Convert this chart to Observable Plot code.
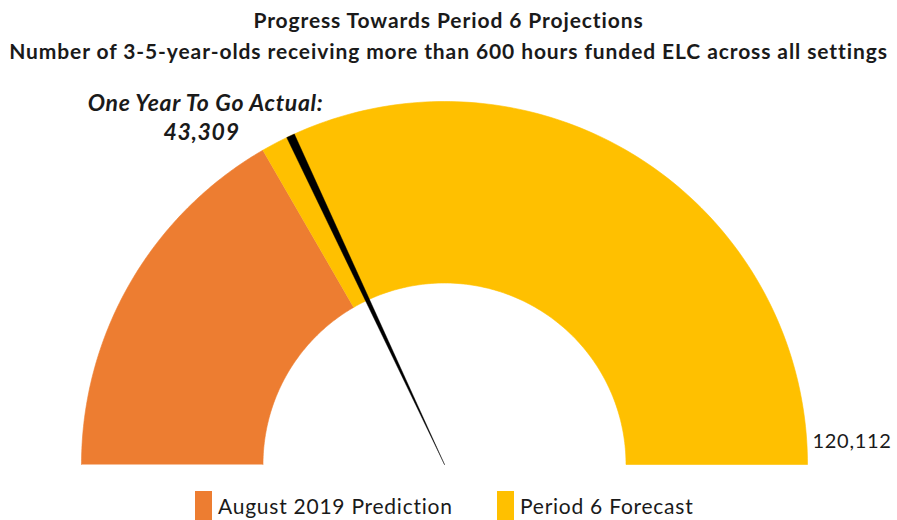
<!DOCTYPE html>
<html><head><meta charset="utf-8">
<script src="https://cdn.jsdelivr.net/npm/d3@7"></script>
<script src="https://cdn.jsdelivr.net/npm/@observablehq/plot@0.6"></script>
<style>
body{margin:0;background:#fff;font-family:Lato,"Open Sans",sans-serif;color:#1a1a1a;}
#wrap{position:relative;width:897px;height:520px;overflow:hidden;}
#title{width:897px;text-align:center;font-weight:700;font-size:21px;letter-spacing:0.9px;line-height:31px;padding-top:4px;height:66px;box-sizing:border-box;white-space:nowrap;}
#chart{position:absolute;left:0;top:70px;}
.leg{position:absolute;top:491px;height:29px;display:flex;align-items:flex-start;font-size:21px;letter-spacing:0.75px;}
.sw{width:17px;height:29px;margin-right:6px;}
.lt{line-height:20px;margin-top:5px;}
</style>
</head><body>
<div id="wrap">
  <div id="title"></div>
  <div id="chart"></div>
  <div id="legend"></div>
</div>
<script>
// ---- data ----
const titleLines = ["Progress Towards Period 6 Projections",
  "Number of 3-5-year-olds receiving more than 600 hours funded ELC across all settings"];
const gaugeMax = 120112;
const segmentNames = ["August 2019 Prediction", "Period 6 Forecast"];
const segmentStart = [0, 40000];
const segmentEnd = [40000, 120112];
const segmentColors = ["#ED7D31", "#FFC000"];
const actualLabel = "One Year To Go Actual:";
const actualValue = 43309;
const maxLabel = "120,112";

// ---- layout (style) ----
const W = 897, H = 412;
const cx = 444, cy = 394, R = 363;   // pixels
const innerRatio = 0.5;
const needleHalf = 4.2 / R;

document.getElementById("title").innerHTML = titleLines.map(t => `<div>${t}</div>`).join("");

const theta = v => Math.PI * (1 - v / gaugeMax);

function ringPoints(v0, v1, name) {
  const pts = [];
  const n = 120;
  for (let i = 0; i <= n; i++) {
    const a = theta(v0 + (v1 - v0) * i / n);
    pts.push({name, x: Math.cos(a), y: Math.sin(a)});
  }
  for (let i = n; i >= 0; i--) {
    const a = theta(v0 + (v1 - v0) * i / n);
    pts.push({name, x: innerRatio * Math.cos(a), y: innerRatio * Math.sin(a)});
  }
  return pts;
}

const segMarks = segmentNames.map((name, i) =>
  Plot.line(ringPoints(segmentStart[i], segmentEnd[i], name),
    {x: "x", y: "y", fill: segmentColors[i], stroke: segmentColors[i], strokeWidth: 0.6}));

const ta = theta(actualValue);
const needle = [
  {x: 0, y: 0},
  {x: Math.cos(ta + needleHalf), y: Math.sin(ta + needleHalf)},
  {x: Math.cos(ta - needleHalf), y: Math.sin(ta - needleHalf)},
  {x: 0, y: 0}
];
const needleTip = [{x: Math.cos(ta), y: Math.sin(ta), label: actualLabel, value: d3.format(",")(actualValue)}];
const endPoint = [{x: Math.cos(theta(gaugeMax)), y: 0, label: maxLabel}];

const chart = Plot.plot({
  width: W, height: H,
  margin: 0,
  x: {domain: [-cx / R, (W - cx) / R], axis: null},
  y: {domain: [-(H - cy) / R, cy / R], axis: null},
  style: {fontFamily: "Lato, 'Open Sans', sans-serif", color: "#1a1a1a", background: "white", letterSpacing: "0.7px"},
  marks: [
    ...segMarks,
    Plot.line(needle, {x: "x", y: "y", fill: "black", stroke: "black", strokeWidth: 0.4}),
    Plot.text(needleTip, {x: "x", y: "y", text: "label", dx: -85, dy: -25, lineAnchor: "bottom",
      fontSize: 23, fontWeight: 700, fontStyle: "italic", fill: "#1a1a1a"}),
    Plot.text(needleTip, {x: "x", y: "y", text: "value", dx: -89, dy: 4, lineAnchor: "bottom",
      fontSize: 23, fontWeight: 700, fontStyle: "italic", fill: "#1a1a1a"}),
    Plot.text(endPoint, {x: "x", y: "y", text: "label", dx: 5, dy: -17, lineAnchor: "bottom",
      textAnchor: "start", fontSize: 20, fill: "#1a1a1a"})
  ]
});
document.getElementById("chart").appendChild(chart);

const legendLeft = [195, 497];
document.getElementById("legend").innerHTML = segmentNames.map((n, i) =>
  `<div class="leg" style="left:${legendLeft[i]}px"><div class="sw" style="background:${segmentColors[i]}"></div><div class="lt">${n}</div></div>`).join("");
</script>
</body></html>
